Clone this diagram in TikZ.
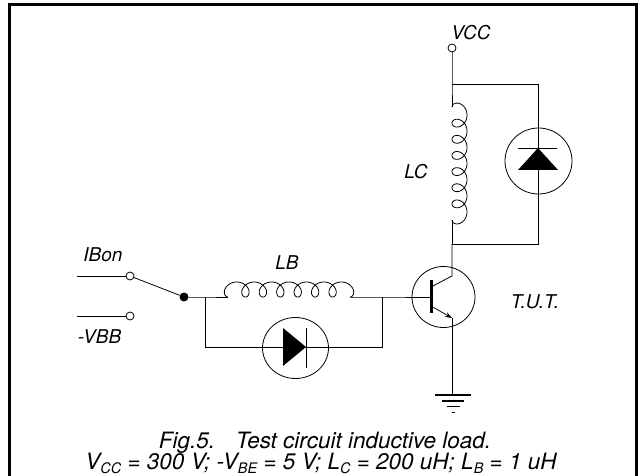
\documentclass[tikz,border=0pt]{standalone}
\usepackage{fontspec}
\setmainfont{TeX Gyre Heros}
\usetikzlibrary{arrows.meta,shapes.geometric}
\newcommand\mysub[1]{\raisebox{-0.4ex}{\fontsize{14.5}{14.5}\selectfont #1}}
\begin{document}
\begin{tikzpicture}[x=1pt,y=-1pt,
  wire/.style={line width=0.8pt},
  term/.style={circle,draw,line width=0.8pt,minimum size=8pt,inner sep=0pt},
  lbl/.style={font=\fontsize{19}{21}\selectfont\itshape,inner sep=0pt},
  captext/.style={font=\fontsize{22.5}{24}\selectfont\itshape,inner sep=0pt,anchor=base},
  ring/.style={ellipse,draw,line width=0.8pt,inner sep=0pt}]
\useasboundingbox (0,0) rectangle (640,476);
\draw[line width=2.5pt] (9.5,4.5) rectangle (636.5,495);

% VCC side
\node[term] (vcc) at (452,48) {};
\node[lbl] (vcclbl) at (471,33) {VCC};
\coordinate (ntop) at (452,84);
\coordinate (dtop) at (538,84);
\coordinate (lctop) at (452,107);
\coordinate (lcbot) at (452,220);
\coordinate (nmid) at (452,244);
\coordinate (dbot) at (538,244);
\draw[wire] (vcc.south) -- (ntop) -- (lctop);
\draw[wire] (ntop) -- (dtop) -- (dbot) -- (nmid);
\draw[wire] plot[domain=0:43.98,samples=400,variable=\t]
  ({452+7.5*(1-cos(\t r))},{107+2.57*\t-7.5*sin(\t r)});
\draw[wire] (lcbot) -- (nmid);
\node[lbl] (lclbl) at (416,172) {LC};
\node[ring,minimum width=67pt,minimum height=66pt] (d1) at (538.5,161) {};
\fill (518,170) -- (558,170) -- (538,148) -- cycle;
\draw[wire] (518,148) -- (557,148);

% transistor
\node[ring,minimum width=63pt,minimum height=61pt] (q) at (443.5,297) {};
\coordinate (bb1) at (431,280);
\coordinate (bb2) at (431,313);
\draw[line width=3pt] (bb1) -- (bb2);
\coordinate (cc) at (452,276);
\coordinate (ee) at (452,318);
\draw[wire] (431,287) -- (cc) -- (nmid);
\draw[wire,-{Stealth[length=7pt,width=5pt]}] (431,306) -- (ee);
\coordinate (gnd) at (452,395);
\draw[wire] (ee) -- (gnd);
\draw[line width=1.3pt] (435,395) -- (471,395);
\draw[line width=1.1pt] (442,401) -- (464,401);
\draw[line width=1.1pt] (447,406.5) -- (460,406.5);
\draw[line width=1pt] (451.5,412) -- (454.5,412);
\node[lbl] (tut) at (535,302) {T.U.T.};

% base circuit
\node[term] (t1) at (130,276) {};
\node[term] (t2) at (130,316) {};
\coordinate (i1) at (77,276);
\coordinate (i2) at (77,316);
\draw[wire] (i1) -- (t1.west);
\draw[wire] (i2) -- (t2.west);
\node[circle,fill,minimum size=9pt,inner sep=0pt] (sw) at (184,297) {};
\draw[wire] (t1) -- (sw);
\node[lbl] (ibon) at (103,255) {IBon};
\node[lbl] (vbb) at (99.5,337) {-VBB};
\coordinate (bl) at (205,297);
\coordinate (lbs) at (228,297);
\coordinate (lbe) at (350,297);
\coordinate (br) at (382,297);
\coordinate (bbl) at (205,347);
\coordinate (bbr) at (382,347);
\draw[wire] (sw) -- (bl) -- (lbs);
\draw[wire] plot[domain=0:43.98,samples=400,variable=\t]
  ({228+2.774*\t-7.5*sin(\t r)},{297-7.5*(1-cos(\t r))});
\draw[wire] (lbe) -- (br) -- (430,297);
\draw[wire] (bl) -- (bbl) -- (bbr) -- (br);
\node[lbl] (lblb) at (287,263) {LB};
\node[ring,minimum width=66pt,minimum height=61pt] (d2) at (295.5,348) {};
\fill (283,328) -- (283,366) -- (306,347) -- cycle;
\draw[wire] (306,328) -- (306,368);

% caption
\node[captext] (c1) at (325,448) {Fig.5.\hspace{0.55em} Test circuit inductive load.};
\node[captext] (c2) at (321,469) {V\mysub{CC} = 300 V; -V\mysub{BE} = 5 V; L\mysub{C} = 200 uH; L\mysub{B} = 1 uH};
\end{tikzpicture}
\end{document}
